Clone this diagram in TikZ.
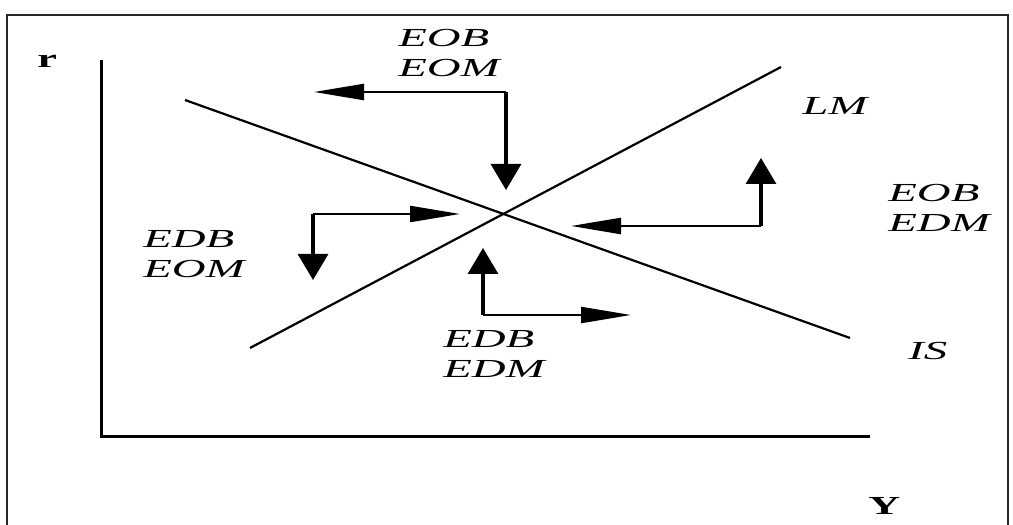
\documentclass[tikz,border=0pt]{standalone}
\usepackage{fontspec}
\setmainfont{Liberation Serif}
\usetikzlibrary{arrows.meta}
\tikzset{
  lab/.style={font=\fontsize{26}{30}\selectfont\itshape, xscale=1.8, transform shape, align=left, inner sep=0pt, anchor=north west},
  axlab/.style={font=\fontsize{26}{30}\selectfont\bfseries, xscale=1.7, transform shape, inner sep=0pt, anchor=base west},
  curve/.style={line width=2.2pt},
  axis/.style={line width=3pt},
  harrow/.style={line width=2.2pt, -{Triangle[length=50pt,width=16pt]}},
  varrow/.style={line width=3.2pt, -{Triangle[length=26pt,width=30pt]}},
}
\begin{document}
\begin{tikzpicture}[x=1pt,y=1pt]
\useasboundingbox (0,0) rectangle (1013,525);
% frame
\draw[line width=2pt, black!85] (7,0) -- (7,510) -- (1008,510) -- (1008,0);
% axes
\coordinate (O) at (101,88);
\coordinate (Ytop) at (101,465);
\coordinate (Xend) at (870,88);
\draw[axis] (Ytop) -- (O) -- (Xend);
\node[axlab] (r) at (37,457) {r};
\node[axlab] (Y) at (868,10) {Y};
% curves
\coordinate (IS1) at (185,425);
\coordinate (IS2) at (850,187);
\coordinate (LM1) at (250,177);
\coordinate (LM2) at (781,458);
\draw[curve] (IS1) -- (IS2);
\draw[curve] (LM1) -- (LM2);
\node[lab] (lm) at (802,427.5) {LM};
\node[lab] (is) at (908,182.5) {IS};
% arrows top
\coordinate (A) at (506,433);
\coordinate (Al) at (314,433);
\coordinate (Ad) at (506,335);
\draw[harrow] (A) -- (Al);
\draw[varrow] (A) -- (Ad);
% arrows left
\coordinate (B) at (313,311);
\coordinate (Br) at (460,311);
\coordinate (Bd) at (313,245);
\draw[harrow] (B) -- (Br);
\draw[varrow] (B) -- (Bd);
% arrows right
\coordinate (C) at (761,299);
\coordinate (Cl) at (571,299);
\coordinate (Cu) at (761,367);
\draw[harrow] (C) -- (Cl);
\draw[varrow] (C) -- (Cu);
% arrows bottom
\coordinate (D) at (483,210);
\coordinate (Du) at (483,277);
\coordinate (Dr) at (631,210);
\draw[varrow] (D) -- (Du);
\draw[harrow] (D) -- (Dr);
% labels
\node[lab] (tl) at (398,495.5) {EOB\\EOM};
\node[lab] (ll) at (143,294.5) {EDB\\EOM};
\node[lab] (rl) at (888,340.5) {EOB\\EDM};
\node[lab] (bl) at (443,194.5) {EDB\\EDM};
\end{tikzpicture}
\end{document}
